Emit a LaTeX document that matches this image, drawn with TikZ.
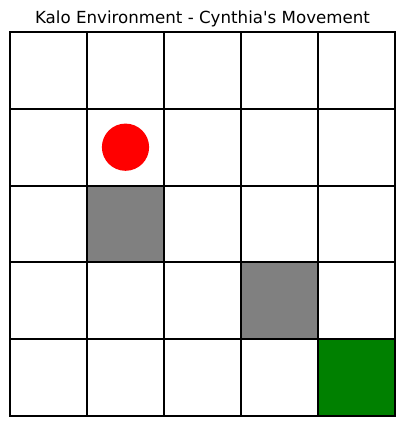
\documentclass[tikz,border=0pt]{standalone}
\usepackage{fontspec}
\setmainfont{DejaVu Sans}
\usepackage{tikz}

\begin{document}
\begin{tikzpicture}[x=0.72pt, y=-0.72pt]

% Grid origin and cell size (in pixels)
\def\gx{10}
\def\gy{32}
\def\cw{77}
\def\ch{76.8}

% Macro to fill one grid cell
% Usage: \fcell{column}{row}{colour}
\newcommand{\fcell}[3]{
    \fill[#3] ({\gx+\cw*#1}, {\gy+\ch*#2}) rectangle ++(\cw, \ch);
}

\useasboundingbox (0,0) rectangle (404,427);

% --- Title ---
\node[anchor=base, inner sep=0pt, font=\fontsize{12pt}{14pt}\selectfont] (title) at (202.5, 23.5) {Kalo Environment - Cynthia\textquotesingle s Movement};

% --- Obstacles and goal ---
\fcell{1}{2}{gray}
\fcell{3}{3}{gray}
\fcell{4}{4}{green!50!black}

% --- Grid lines ---
\foreach \i in {0,...,4} {
    \foreach \j in {0,...,4} {
        \draw[line width=1.5pt] ({\gx+\cw*\i}, {\gy+\ch*\j}) rectangle ++(\cw, \ch);
    }
}

% --- Agent ---
\node[circle, fill=red, inner sep=0pt, minimum size=34pt] (agent) at ({\gx+\cw*1.5}, {\gy+\ch*1.5}) {};

\end{tikzpicture}
\end{document}
